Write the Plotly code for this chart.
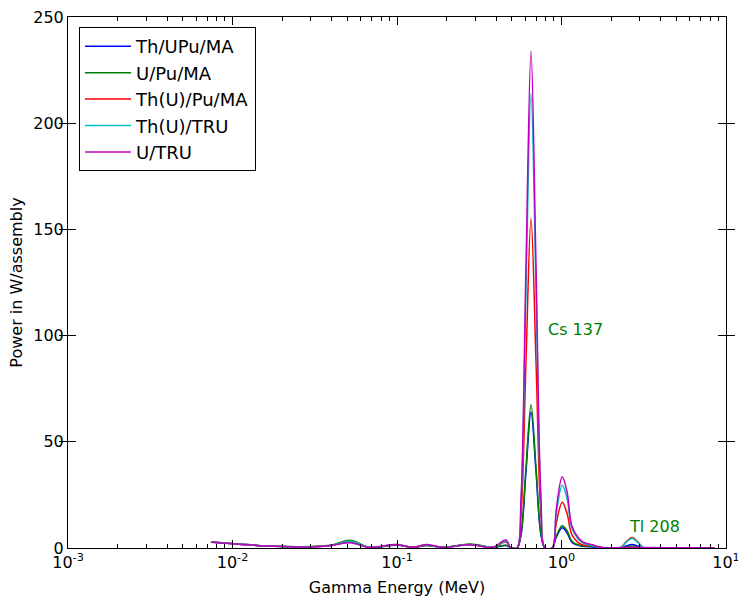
import math
import plotly.graph_objects as go

energy = [0.0074, 0.011, 0.018, 0.03, 0.04, 0.052, 0.068, 0.1, 0.125, 0.15, 0.19,
          0.28, 0.38, 0.46, 0.49, 0.5364, 0.5673, 0.6083, 0.6526, 0.6998, 0.7507, 0.7938,
          0.878, 0.9286, 1.01, 1.083, 1.162, 1.337, 1.537, 1.768,
          2.269, 2.466, 2.683, 2.918, 3.174, 4.5, 8.5]

th_upu_ma = [2.8, 1.8, 0.8, 0.6, 1.2, 2.8, 0.3, 1.3, 0.3, 1.2, 0.3,
             1.6, 0.3, 1.2, 0.3, 0.0, 6.0, 36.0, 64.0, 36.0, 6.0, 0.0,
             0.0, 5.0, 9.5, 7.0, 2.5, 0.8, 0.5, 0.1,
             0.0, 0.9, 1.7, 0.9, 0.0, 0.0, 0.0]
u_pu_ma = [2.9, 1.8, 0.8, 0.7, 1.4, 3.6, 0.3, 1.4, 0.3, 1.2, 0.3,
           1.9, 0.3, 1.3, 0.3, 0.0, 6.5, 38.0, 67.5, 38.0, 6.5, 0.0,
           0.0, 5.5, 10.5, 8.0, 3.0, 1.0, 0.8, 0.1,
           0.0, 0.5, 1.0, 0.5, 0.0, 0.0, 0.0]
th_u_pu_ma = [2.8, 1.8, 0.8, 0.6, 1.2, 3.0, 0.3, 1.5, 0.3, 1.4, 0.3,
              1.6, 0.3, 2.8, 0.3, 0.0, 15.0, 88.0, 155.0, 88.0, 15.0, 0.0,
              0.0, 11.5, 21.5, 16.0, 6.0, 1.5, 1.2, 0.2,
              0.0, 2.8, 5.0, 2.8, 0.0, 0.0, 0.0]
th_u_tru = [2.8, 1.8, 0.8, 0.6, 1.2, 3.2, 0.3, 1.6, 0.3, 1.5, 0.3,
            1.7, 0.3, 3.2, 0.3, 0.0, 21.0, 122.0, 214.0, 122.0, 21.0, 0.0,
            0.0, 16.0, 29.5, 23.0, 9.0, 2.5, 1.0, 0.2,
            0.0, 2.5, 4.6, 2.5, 0.0, 0.0, 0.0]
u_tru = [2.7, 1.8, 0.8, 0.5, 1.2, 2.5, 0.3, 1.7, 0.3, 1.7, 0.3,
         1.5, 0.3, 3.8, 0.3, 0.0, 23.0, 133.0, 234.0, 133.0, 23.0, 0.0,
         0.0, 18.0, 33.5, 26.0, 10.0, 3.0, 1.5, 0.2,
         0.2, 0.3, 0.4, 0.3, 0.2, 0.1, 0.1]

series_names = ["Th/UPu/MA", "U/Pu/MA", "Th(U)/Pu/MA", "Th(U)/TRU", "U/TRU"]
series_values = [th_upu_ma, u_pu_ma, th_u_pu_ma, th_u_tru, u_tru]
series_colors = ["#0000ff", "#008000", "#ff0000", "#00bfbf", "#bf00bf"]

x_tick_vals = [0.001, 0.01, 0.1, 1, 10]
x_tick_text = ["10<sup>-3</sup>", "10<sup>-2</sup>", "10<sup>-1</sup>", "10<sup>0</sup>", "10<sup>1</sup>"]
x_minor_vals = [m * d for d in [0.001, 0.01, 0.1, 1] for m in range(2, 10)]
y_tick_vals = [0, 50, 100, 150, 200, 250]

annotations_text = ["Cs 137", "Tl 208"]
annotations_x = [0.805, 2.5]
annotations_y = [103, 10]

fig = go.Figure()
for name, vals, col in zip(series_names, series_values, series_colors):
    fig.add_trace(go.Scatter(x=energy, y=vals, name=name, mode="lines",
                             line=dict(color=col, width=1.5, shape="spline", smoothing=1.0)))

# carrier for the minor-tick axis
fig.add_trace(go.Scatter(x=[], y=[], xaxis="x2", showlegend=False, hoverinfo="skip"))

for t, ax, ay in zip(annotations_text, annotations_x, annotations_y):
    fig.add_annotation(x=math.log10(ax), y=ay, xref="x", yref="y", text=t, showarrow=False,
                       xanchor="left", yanchor="middle",
                       font=dict(color="#008000", size=16, family="DejaVu Sans"))

# figure is a bit wider than the window so the last tick label is not hidden
fig.update_layout(
    width=750, height=601,
    margin=dict(l=68, r=24, t=17, b=53),
    plot_bgcolor="white", paper_bgcolor="white",
    font=dict(family="DejaVu Sans", size=16, color="black"),
    showlegend=True,
    legend=dict(x=0.0167, y=0.981, xanchor="left", yanchor="top",
                bordercolor="black", borderwidth=1, bgcolor="white",
                font=dict(size=18), itemwidth=46),
    xaxis2=dict(overlaying="x", anchor="y", type="log", range=[-3, 1], tickvals=x_minor_vals,
                showticklabels=False, ticks="inside", ticklen=4, tickcolor="black",
                mirror="allticks", showline=False, showgrid=False, zeroline=False,
                automargin=False),
)
fig.layout.xaxis.update(type="log", range=[-3, 1], tickvals=x_tick_vals, ticktext=x_tick_text,
                        ticks="inside", ticklen=8, tickcolor="black", mirror="allticks",
                        showline=True, linecolor="black", linewidth=1, showgrid=False, zeroline=False,
                        tickfont=dict(size=16), automargin=False,
                        title=dict(text="Gamma Energy (MeV)", font=dict(size=16), standoff=10))
fig.layout.yaxis.update(range=[0, 250], tickvals=y_tick_vals,
                        ticks="inside", ticklen=8, tickcolor="black", mirror="allticks",
                        showline=True, linecolor="black", linewidth=1, showgrid=False, zeroline=False,
                        tickfont=dict(size=16), automargin=False,
                        title=dict(text="Power in W/assembly", font=dict(size=16), standoff=6))

fig.write_html("out.html", config={"displayModeBar": False},
               post_script="document.body.style.margin='0';document.body.style.overflow='hidden';")
